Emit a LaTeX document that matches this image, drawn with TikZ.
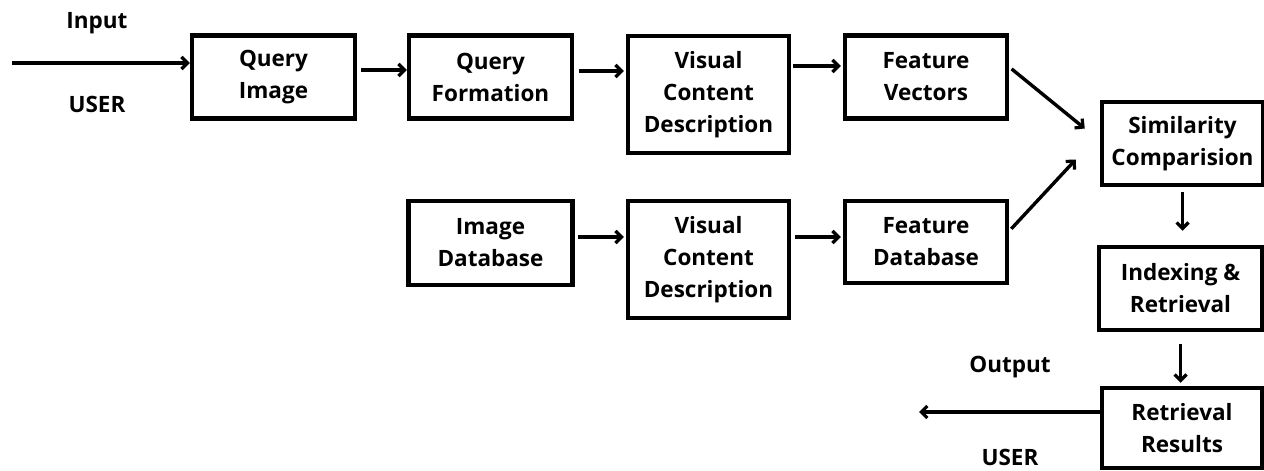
\documentclass[tikz,border=0pt]{standalone}
\usepackage{fontspec}
\setmainfont{Open Sans}
\usetikzlibrary{arrows.meta}
\tikzset{
  blk/.style={draw,line width=4.5pt,align=center,inner sep=0pt,
    font=\fontsize{22.5}{32}\selectfont\bfseries},
  lbl/.style={font=\fontsize{22.5}{32}\selectfont\bfseries},
  flow/.style={line width=3.4pt,-{Straight Barb[length=6pt,width=12pt,line width=3.2pt]}}
}
\begin{document}
\begin{tikzpicture}[x=1pt,y=-1pt]
                \useasboundingbox (0,0) rectangle (1264,471);
                % upper row
                \node[blk,minimum width=163,minimum height=83] (qimg) at (273.5,77) {Query\\Image};
                \node[blk,minimum width=163,minimum height=83] (qform) at (490.5,77) {Query\\Formation};
                \node[blk,minimum width=161,minimum height=117] (vcdq) at (708.5,94.5) {Visual\\Content\\Description};
                \node[blk,minimum width=162,minimum height=83] (fvec) at (926,77) {Feature\\Vectors};
                % lower row
                \node[blk,minimum width=164,minimum height=84] (imgdb) at (490.5,243) {Image\\Database};
                \node[blk,minimum width=161,minimum height=117] (vcddb) at (708.5,259.5) {Visual\\Content\\Description};
                \node[blk,minimum width=162,minimum height=82] (fdb) at (926,242) {Feature\\Database};
                % right column
                \node[blk,minimum width=161,minimum height=83] (sim) at (1182.5,143.5) {Similarity\\Comparision};
                \node[blk,minimum width=163,minimum height=83] (idx) at (1180.5,288.5) {Indexing \&\\Retrieval};
                \node[blk,minimum width=160,minimum height=80] (res) at (1182,428) {Retrieval\\Results};
                % user labels
                \node[lbl] (in) at (97,23) {Input};
                \node[lbl] (userin) at (97,104) {USER};
                \node[lbl] (out) at (1010,367) {Output};
                \node[lbl] (userout) at (1010,457) {USER};
                \coordinate (start) at (12,63);
                \coordinate (stop) at (919,412);
                % arrows
                \draw[flow] (start) -- ([yshift=14pt]qimg.west);
                \draw[flow,shorten <=4pt] ([yshift=7pt]qimg.east) -- ([yshift=7pt]qform.west);
                \draw[flow,shorten <=5pt,shorten >=2pt] ([yshift=6pt]qform.east) -- ([yshift=6pt,xshift=0pt]vcdq.west |- qform.east);
                \draw[flow,shorten <=2pt,shorten >=2pt] ([yshift=11pt]fvec.west -| vcdq.east) -- ([yshift=11pt]fvec.west);
                \draw[flow,shorten <=3pt,shorten >=2pt] ([yshift=6pt]imgdb.east) -- ([yshift=6pt]imgdb.east -| vcddb.west);
                \draw[flow,shorten <=4pt,shorten >=2pt] ([yshift=5pt]fdb.west -| vcddb.east) -- ([yshift=5pt]fdb.west);
                \draw[flow,shorten <=3pt] ([yshift=10pt]fvec.east) -- ([xshift=-15pt,yshift=15pt]sim.west);
                \draw[flow,shorten <=3pt] ([yshift=11pt]fdb.east) -- ([xshift=-24pt,yshift=-16pt]sim.west);
                \draw[flow,shorten <=5pt,shorten >=14pt] (sim.south) -- (sim.south |- idx.north);
                \draw[flow,shorten <=12pt,shorten >=3pt] (idx.south) -- (idx.south |- res.north);
                \draw[flow] ([yshift=16pt]res.west) -- (stop);
            \end{tikzpicture}
\end{document}
